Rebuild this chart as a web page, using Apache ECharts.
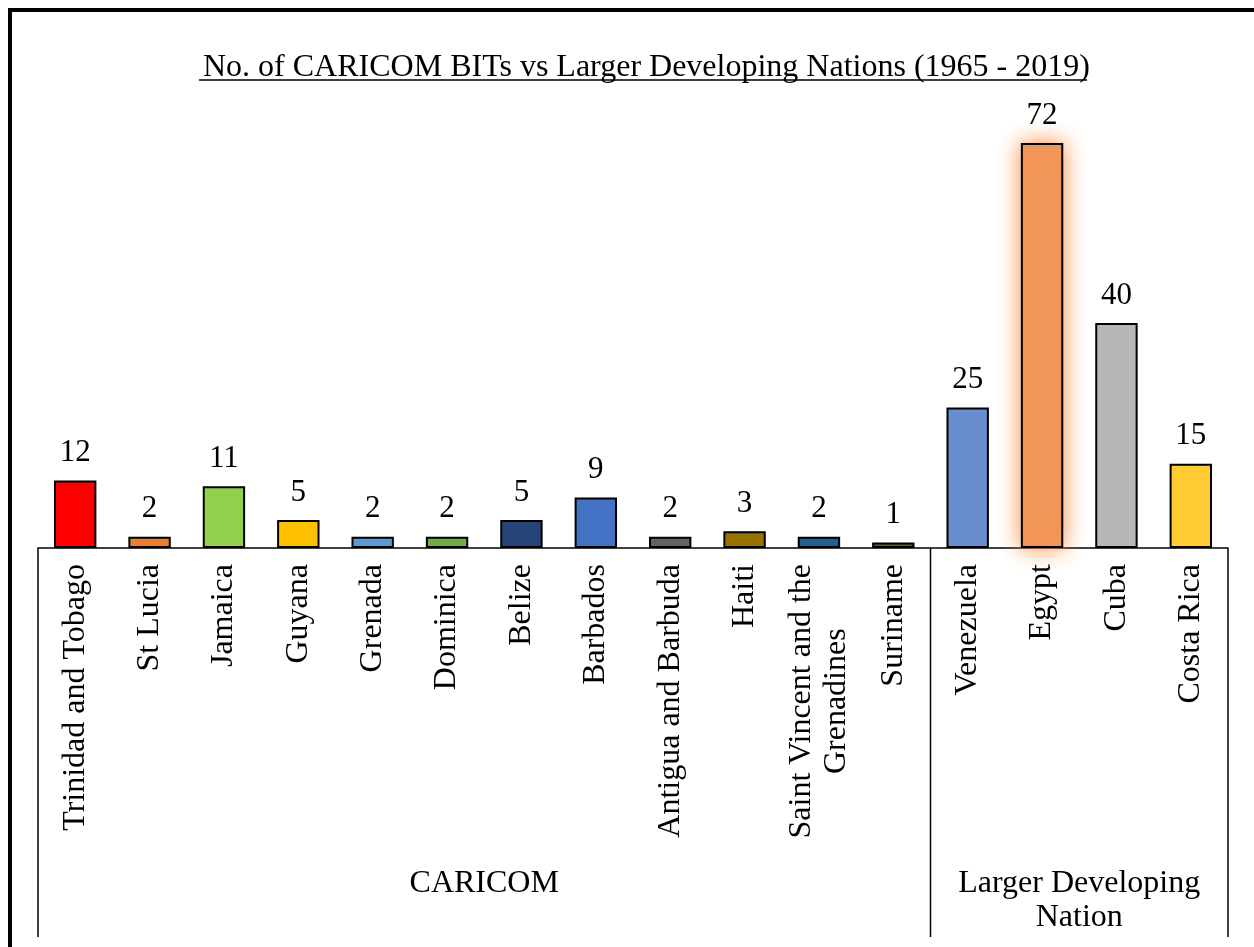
<!DOCTYPE html>
<html>
<head>
<meta charset="utf-8">
<script src="https://cdn.jsdelivr.net/npm/echarts@6/dist/echarts.min.js"></script>
<style>
  html, body { margin: 0; padding: 0; background: #fff; }
  #bitChart { width: 1254px; height: 947px; }
</style>
</head>
<body>
<div id="bitChart"></div>
<script>
// data
var countries = [
  "Trinidad and Tobago", "St Lucia", "Jamaica", "Guyana", "Grenada",
  "Dominica", "Belize", "Barbados", "Antigua and Barbuda", "Haiti",
  "Saint Vincent and the\nGrenadines", "Suriname",
  "Venezuela", "Egypt", "Cuba", "Costa Rica"
];
var bitCounts = [12, 2, 11, 5, 2, 2, 5, 9, 2, 3, 2, 1, 25, 72, 40, 15];
var barColors = [
  "#FF0000", "#ED7D31", "#92D050", "#FFC000", "#5B9BD5",
  "#70AD47", "#264478", "#4472C4", "#636363", "#997300",
  "#255E91", "#43682B",
  "#698ED0", "#F1975A", "#B7B7B7", "#FFCD33"
];
var groupNames = ["CARICOM", "Larger Developing\nNation"];
var groupSizes = [12, 4];
var glowCountry = "Egypt";

var serif = "'Liberation Serif', 'Times New Roman', serif";

var chart = echarts.init(document.getElementById("bitChart"));

var option = {
  animation: false,
  backgroundColor: "#fff",
  title: {
    text: "No. of CARICOM BITs vs Larger Developing Nations (1965 - 2019)",
    left: 198,
    top: 47,
    textStyle: { fontFamily: serif, fontSize: 32, fontWeight: "normal", color: "#000" }
  },
  grid: { left: 38, right: 26, top: 98, bottom: 399, containLabel: false },
  xAxis: {
    type: "category",
    data: countries,
    boundaryGap: true,
    axisLine: { lineStyle: { color: "#000", width: 1.5 } },
    axisTick: { show: false },
    axisLabel: {
      interval: 0,
      rotate: 90,
      margin: 16,
      color: "#000",
      fontFamily: serif,
      fontSize: 32,
      // multi-line labels have their lines centred on each other
      formatter: function (v) {
        if (v.indexOf("\n") < 0) return v;
        return v.split("\n").map(function (s) { return "{c|" + s + "}"; }).join("\n");
      },
      rich: {
        c: { align: "center", fontFamily: serif, fontSize: 32, lineHeight: 35, color: "#000" }
      }
    }
  },
  yAxis: {
    type: "value",
    min: 0,
    max: 80,
    show: false,
    splitLine: { show: false }
  },
  series: [
    {
      type: "bar",
      barWidth: "57%",
      data: bitCounts.map(function (v, i) {
        var item = {
          value: v,
          itemStyle: { color: barColors[i], borderColor: "#000", borderWidth: 2 }
        };
        if (countries[i] === glowCountry) {
          item.itemStyle.shadowBlur = 22;
          item.itemStyle.shadowColor = "rgba(250,140,60,1)";
        }
        return item;
      }),
      label: {
        show: true,
        position: "top",
        distance: 12,
        color: "#000",
        fontFamily: serif,
        fontSize: 31
      }
    }
  ]
};

chart.setOption(option);

// group brackets below the category labels
var c0 = chart.convertToPixel({ xAxisIndex: 0 }, countries[0]);
var c1 = chart.convertToPixel({ xAxisIndex: 0 }, countries[1]);
var band = c1 - c0;
var baseY = chart.convertToPixel({ yAxisIndex: 0 }, 0);
var lineBottom = 937;
var groupLabelY = [884, 901];

var graphics = [
  // outer frame
  {
    type: "rect",
    shape: { x: 10, y: 10, width: 1300, height: 1000 },
    style: { fill: null, stroke: "#000", lineWidth: 4 },
    silent: true
  },
  // title underline
  {
    type: "line",
    shape: { x1: 199, y1: 80, x2: 1087, y2: 80 },
    style: { stroke: "#000", lineWidth: 1.5 }
  }
];

var start = 0;
var edges = [c0 - band / 2];
groupSizes.forEach(function (n, g) {
  var left = c0 - band / 2 + start * band;
  var right = left + n * band;
  edges.push(right);
  graphics.push({
    type: "text",
    x: (left + right) / 2,
    y: groupLabelY[g],
    style: {
      text: groupNames[g],
      fontFamily: serif,
      fontSize: 32,
      lineHeight: 34,
      fill: "#000",
      align: "center",
      verticalAlign: "middle"
    }
  });
  start += n;
});
edges.forEach(function (x) {
  graphics.push({
    type: "line",
    shape: { x1: x, y1: baseY, x2: x, y2: lineBottom },
    style: { stroke: "#000", lineWidth: 1.5 }
  });
});

chart.setOption({ graphic: graphics });
</script>
</body>
</html>
